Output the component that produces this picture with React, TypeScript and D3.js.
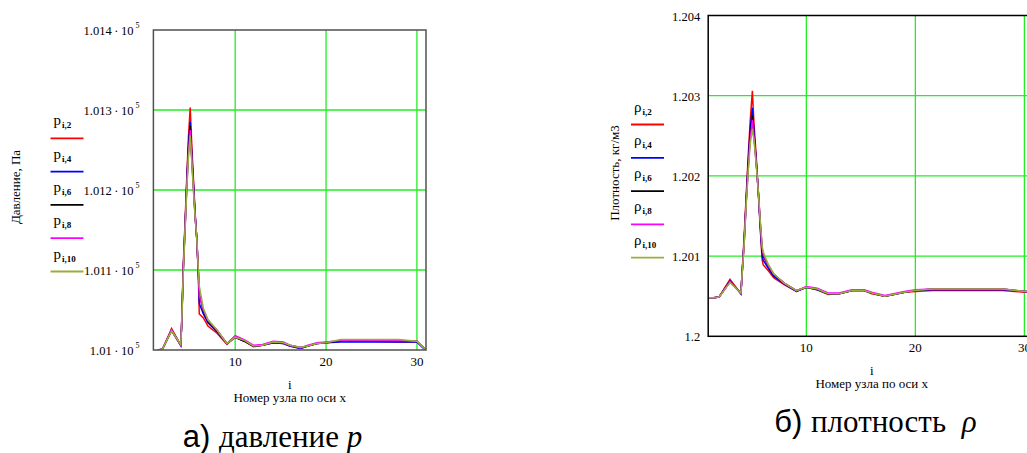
import React from "react";
import * as d3 from "d3";

// ---------- data ----------
const NODES = [1, 1.5, 2, 3, 4, 4.1, 4.3, 4.5, 4.67, 4.85, 5.05, 5.2, 5.4, 5.6, 5.77, 5.95, 6.05, 6.5, 7, 8, 9.1, 10, 11, 12, 13, 14.2, 15.3, 16, 17.2, 18, 19, 20, 21.6, 25, 28, 30, 31];

const P2 = [100990, 101000, 101001, 101027, 101006, 101030, 101110, 101165, 101215, 101265, 101303, 101262, 101215, 101170, 101140, 101090, 101045, 101040, 101030, 101021, 101007, 101017, 101011, 101004, 101006, 101009, 101008, 101005, 101002, 101005, 101008, 101009, 101011, 101011, 101010, 101010, 101000];
const P4 = [100990, 101000, 101001, 101025, 101006, 101029, 101105, 101160, 101210, 101255, 101285, 101250, 101210, 101168, 101140, 101095, 101058, 101045, 101034, 101023, 101008, 101016, 101011, 101005, 101006, 101009, 101008, 101005, 101002, 101005, 101008, 101009, 101010, 101010, 101010, 101010, 100999];
const P6 = [100990, 101000, 101001, 101024, 101006, 101028, 101103, 101157, 101205, 101248, 101280, 101245, 101205, 101166, 101140, 101098, 101070, 101048, 101036, 101024, 101008, 101016, 101011, 101005, 101006, 101010, 101009, 101006, 101003, 101005, 101008, 101009, 101012, 101012, 101012, 101011, 101000];
const P8 = [100990, 101000, 101001, 101025, 101006, 101028, 101102, 101156, 101203, 101245, 101275, 101243, 101203, 101165, 101141, 101099, 101068, 101050, 101037, 101025, 101008, 101018, 101013, 101006, 101007, 101011, 101010, 101006, 101003, 101006, 101009, 101010, 101012, 101012, 101012, 101011, 101000];
const P10 = [100990, 101000, 101001, 101024, 101007, 101028, 101100, 101154, 101200, 101240, 101268, 101240, 101200, 101165, 101140, 101100, 101080, 101052, 101038, 101025, 101008, 101016, 101012, 101005, 101006, 101010, 101009, 101006, 101003, 101005, 101008, 101009, 101013, 101013, 101013, 101011, 101000];

const R2 = [1.20048, 1.20048, 1.20049, 1.20071, 1.20053, 1.20078, 1.20125, 1.2018, 1.20225, 1.20268, 1.20306, 1.20265, 1.20225, 1.2018, 1.20135, 1.20095, 1.20089, 1.20082, 1.20073, 1.20064, 1.20056, 1.20061, 1.20058, 1.20052, 1.20053, 1.20057, 1.20057, 1.20053, 1.2005, 1.20052, 1.20055, 1.20056, 1.20057, 1.20057, 1.20057, 1.20055, 1.20055];
const R4 = [1.20048, 1.20048, 1.20049, 1.20069, 1.20053, 1.20076, 1.2012, 1.20175, 1.20218, 1.20258, 1.20285, 1.20255, 1.2022, 1.20178, 1.20138, 1.201, 1.20095, 1.20085, 1.20075, 1.20065, 1.20056, 1.20061, 1.20058, 1.20053, 1.20053, 1.20057, 1.20057, 1.20054, 1.2005, 1.20052, 1.20055, 1.20057, 1.20058, 1.20058, 1.20058, 1.20056, 1.20055];
const R6 = [1.20048, 1.20048, 1.20049, 1.20068, 1.20054, 1.20076, 1.20118, 1.20172, 1.20212, 1.2025, 1.20275, 1.2025, 1.20218, 1.2018, 1.20142, 1.20108, 1.201, 1.20088, 1.20077, 1.20066, 1.20057, 1.20061, 1.20059, 1.20053, 1.20053, 1.20057, 1.20057, 1.20054, 1.2005, 1.20052, 1.20055, 1.20057, 1.20059, 1.20059, 1.20059, 1.20056, 1.20055];
const R8 = [1.20048, 1.20048, 1.20049, 1.20068, 1.20054, 1.20075, 1.20117, 1.2017, 1.20208, 1.20245, 1.2027, 1.20248, 1.20216, 1.2018, 1.20143, 1.2011, 1.20102, 1.20089, 1.20078, 1.20066, 1.20057, 1.20062, 1.2006, 1.20054, 1.20054, 1.20058, 1.20058, 1.20055, 1.20051, 1.20053, 1.20056, 1.20058, 1.20059, 1.20059, 1.20059, 1.20056, 1.20055];
const R10 = [1.20048, 1.20048, 1.20049, 1.20067, 1.20054, 1.20075, 1.20115, 1.20168, 1.20205, 1.2024, 1.20258, 1.20245, 1.20215, 1.2018, 1.20145, 1.20112, 1.20105, 1.2009, 1.20078, 1.20066, 1.20057, 1.20061, 1.20059, 1.20053, 1.20053, 1.20057, 1.20057, 1.20054, 1.2005, 1.20052, 1.20055, 1.20057, 1.20059, 1.20059, 1.20059, 1.20056, 1.20055];

const SERIES_KEYS = ["2", "4", "6", "8", "10"];
const SERIES_COLORS = ["#ff0000", "#0000ff", "#000000", "#ff00ff", "#9aae3c"];
const X_TICKS = [10, 20, 30];
const P_TICKS = [101000, 101100, 101200, 101300, 101400];
const R_TICKS = [1.2, 1.201, 1.202, 1.203, 1.204];

const SERIF = "Liberation Serif, Times New Roman, Tinos, DejaVu Serif, serif";
const SANS = "Liberation Sans, Arial, sans-serif";
const serif = { fontFamily: SERIF };

type PanelProps = {
  id: string;
  series: number[][];
  yDomain: [number, number];
  yTicks: number[];
  xRange: [number, number];
  yRange: [number, number];
  sci: boolean;
  symbol: string;
  yTitle: string;
  yTitleX: number;
  yTitleY: number;
  legendX: number;
  legendTop: number;
  frame: string;
};

function Panel(p: PanelProps) {
  const x = d3.scaleLinear().domain([1, 31]).range(p.xRange);
  const y = d3.scaleLinear().domain(p.yDomain).range(p.yRange);
  const line = d3
    .line<number>()
    .x((_, i) => x(NODES[i]))
    .y((d) => y(d));
  const [x0, x1] = p.xRange;
  const [yb, yt] = p.yRange;
  const cx = (x0 + x1) / 2;
  return (
    <g>
      <defs>
        <clipPath id={p.id}>
          <rect x={x0} y={yt} width={x1 - x0} height={yb - yt} />
        </clipPath>
      </defs>
      {X_TICKS.map((t) => (
        <line key={"gx" + t} x1={x(t)} x2={x(t)} y1={yt} y2={yb} stroke="#22ee22" strokeWidth={1.3} />
      ))}
      {p.yTicks.slice(1, -1).map((t) => (
        <line key={"gy" + t} x1={x0} x2={x1} y1={y(t)} y2={y(t)} stroke="#22ee22" strokeWidth={1.3} />
      ))}
      <g clipPath={`url(#${p.id})`}>
        {p.series.map((s, k) => (
          <path key={k} d={line(s) || ""} fill="none" stroke={SERIES_COLORS[k]} strokeWidth={1.5} />
        ))}
      </g>
      <rect x={x0} y={yt} width={x1 - x0} height={yb - yt} fill="none" stroke={p.frame} strokeWidth={1.5} />
      {p.yTicks.map((t) => {
        const label = p.sci ? d3.format(".4~f")(t / 1e5) : d3.format(".4~f")(t);
        return (
          <g key={"ty" + t}>
            <text x={x0 - (p.sci ? 20 : 8)} y={y(t) + 5} textAnchor="end" style={serif} fontSize={12.5}>
              {p.sci ? label + "\u2009·\u200910" : label}
            </text>
            {p.sci && (
              <text x={x0 - 18} y={y(t) - 2} style={serif} fontSize={8}>
                5
              </text>
            )}
          </g>
        );
      })}
      {X_TICKS.map((t) => (
        <text key={"tx" + t} x={x(t)} y={yb + 16} textAnchor="middle" style={serif} fontSize={13}>
          {t}
        </text>
      ))}
      <text x={cx} y={yb + 39} textAnchor="middle" style={serif} fontSize={13}>
        i
      </text>
      <text x={cx} y={yb + 52} textAnchor="middle" style={serif} fontSize={13}>
        Номер узла по оси x
      </text>
      <text
        transform={`translate(${p.yTitleX},${p.yTitleY}) rotate(-90)`}
        textAnchor="middle"
        dominantBaseline="middle"
        style={serif}
        fontSize={13}
      >
        {p.yTitle}
      </text>
      {SERIES_KEYS.map((k, i) => {
        const ly = p.legendTop + i * 33.3;
        return (
          <g key={"lg" + k}>
            <text x={p.legendX + 3} y={ly - 13} style={serif} fontSize={15}>
              {p.symbol}
              <tspan fontSize={9} fontWeight="bold" dy={3} dx={1}>
                {"i," + k}
              </tspan>
            </text>
            <line x1={p.legendX} x2={p.legendX + 33} y1={ly} y2={ly} stroke={SERIES_COLORS[i]} strokeWidth={1.8} />
          </g>
        );
      })}
    </g>
  );
}

export default function App() {
  return (
    <div style={{ position: "absolute", left: 0, top: 0 }}>
      <svg width={1027} height={453} style={{ display: "block", background: "#fff" }}>
        <Panel
          id="clipP"
          series={[P2, P4, P6, P8, P10]}
          yDomain={[101000, 101400]}
          yTicks={P_TICKS}
          xRange={[153.4, 426]}
          yRange={[350, 30]}
          sci={true}
          symbol="p"
          yTitle="Давление, Па"
          yTitleX={17}
          yTitleY={187}
          legendX={50.5}
          legendTop={138.3}
          frame="#505050"
        />
        <Panel
          id="clipR"
          series={[R2, R4, R6, R8, R10]}
          yDomain={[1.2, 1.204]}
          yTicks={R_TICKS}
          xRange={[708.2, 1035.3]}
          yRange={[336.3, 15.5]}
          sci={false}
          symbol="ρ"
          yTitle="Плотность, кг/м3"
          yTitleX={616}
          yTitleY={173}
          legendX={631}
          legendTop={124.5}
          frame="#000000"
        />
        <text x={272.5} y={447} fontSize={31} textAnchor="middle">
          <tspan style={{ fontFamily: SANS }}>а) </tspan>
          <tspan style={serif}>давление </tspan>
          <tspan style={serif} fontStyle="italic">p</tspan>
        </text>
        <text x={875.5} y={432} fontSize={31} textAnchor="middle">
          <tspan style={{ fontFamily: SANS }}>б) </tspan>
          <tspan style={serif}>плотность </tspan>
          <tspan style={serif} dx={8} fontStyle="italic">ρ</tspan>
        </text>
      </svg>
    </div>
  );
}
